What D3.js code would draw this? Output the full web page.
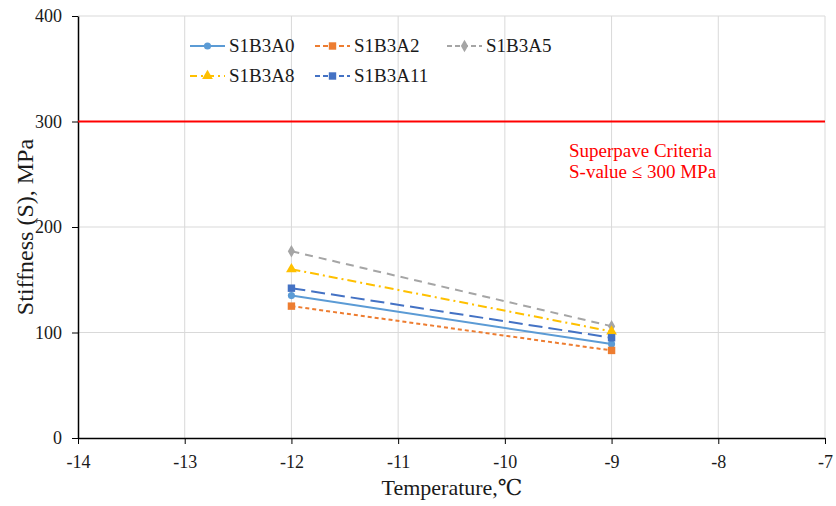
<!DOCTYPE html>
<html>
<head>
  <script src="https://d3js.org/d3.v7.min.js"></script>
  <style>
    body { margin: 0; background: #fff; }
  </style>
</head>
<body>
<div id="chart"></div>
<script type="text/javascript">

  // data
  var temps = [-12, -9];
  var seriesNames = ["S1B3A0", "S1B3A2", "S1B3A5", "S1B3A8", "S1B3A11"];
  var sA0 = [135, 89];
  var sA2 = [125, 83];
  var sA5 = [177, 106];
  var sA8 = [160, 101];
  var sA11 = [142, 95];
  var xTicks = [-14, -13, -12, -11, -10, -9, -8, -7];
  var yTicks = [0, 100, 200, 300, 400];
  var criteria = 300;

  var FONT = "'Liberation Serif', 'Times New Roman', 'DejaVu Serif', serif";
  var width = 836, height = 506;
  var margin = {top: 16, right: 11, bottom: 68, left: 78};

  var svg = d3.select("#chart").append("svg")
      .attr("width", width).attr("height", height)
      .style("font-family", FONT);

  var x = d3.scaleLinear().domain([-14, -7]).range([margin.left, width - margin.right]);
  var y = d3.scaleLinear().domain([0, 400]).range([height - margin.bottom, margin.top]);

  /* gridlines */
  svg.append("g").selectAll("line.gx")
    .data(xTicks.slice(1))
    .enter().append("line")
    .attr("x1", function(d) { return x(d); }).attr("x2", function(d) { return x(d); })
    .attr("y1", y(0)).attr("y2", y(400))
    .style("stroke", "#d9d9d9").style("stroke-width", 1);

  svg.append("g").selectAll("line.gy")
    .data(yTicks.slice(1))
    .enter().append("line")
    .attr("x1", x(-14)).attr("x2", x(-7))
    .attr("y1", function(d) { return y(d); }).attr("y2", function(d) { return y(d); })
    .style("stroke", "#d9d9d9").style("stroke-width", 1);

  /* axes */
  var xAxis = svg.append("g")
    .attr("transform", "translate(0," + y(0) + ")")
    .call(d3.axisBottom(x).tickValues(xTicks).tickSize(6).tickSizeOuter(0)
      .tickFormat(function(d) { return d; }))
    .attr("font-family", null);
  xAxis.select(".domain").style("stroke", "#000").style("stroke-width", 1.5);
  xAxis.selectAll(".tick line").style("stroke", "#000");
  xAxis.selectAll("text").style("font-family", FONT).style("font-size", "18px").style("fill", "#1a1a1a")
    .attr("y", 17).attr("dy", "0.71em");

  var yAxis = svg.append("g")
    .attr("transform", "translate(" + x(-14) + ",0)")
    .call(d3.axisLeft(y).tickValues(yTicks).tickSize(6).tickSizeOuter(0))
    .attr("font-family", null);
  yAxis.select(".domain").style("stroke", "#000").style("stroke-width", 1.5);
  yAxis.selectAll(".tick line").style("stroke", "#000");
  yAxis.selectAll("text").style("font-family", FONT).style("font-size", "18px").style("fill", "#1a1a1a").attr("x", -16);

  /* criteria line */
  svg.append("line")
    .attr("x1", x(-14)).attr("x2", x(-7))
    .attr("y1", y(criteria)).attr("y2", y(criteria))
    .style("stroke", "#ff0000").style("stroke-width", 2);

  svg.append("text").attr("x", 569).attr("y", 157)
    .style("fill", "#ff0000").style("font-size", "19px")
    .text("Superpave  Criteria");
  svg.append("text").attr("x", 569).attr("y", 178)
    .style("fill", "#ff0000").style("font-size", "19px")
    .text("S-value \u2264 300 MPa");

  /* series */
  var series = [
    {name: seriesNames[0], values: sA0, color: "#5b9bd5", dash: null, symbol: d3.symbolCircle, size: 40},
    {name: seriesNames[1], values: sA2, color: "#ed7d31", dash: "4,3", symbol: d3.symbolSquare, size: 55},
    {name: seriesNames[2], values: sA5, color: "#a5a5a5", dash: "8,6", symbol: d3.symbolDiamond, size: 45},
    {name: seriesNames[3], values: sA8, color: "#ffc000", dash: "9,4,2,4", symbol: d3.symbolTriangle, size: 50},
    {name: seriesNames[4], values: sA11, color: "#4472c4", dash: "14,6", symbol: d3.symbolSquare, size: 55}
  ];

  var line = d3.line()
    .x(function(d) { return x(d[0]); })
    .y(function(d) { return y(d[1]); });

  series.forEach(function(s) {
    var pts = temps.map(function(t, i) { return [t, s.values[i]]; });
    svg.append("path")
      .datum(pts)
      .attr("d", line)
      .style("fill", "none")
      .style("stroke", s.color)
      .style("stroke-width", 2)
      .style("stroke-dasharray", s.dash);
    svg.append("g").selectAll("path")
      .data(pts)
      .enter().append("path")
      .attr("d", d3.symbol().type(s.symbol).size(s.size))
      .attr("transform", function(d) { return "translate(" + x(d[0]) + "," + y(d[1]) + ")"; })
      .style("fill", s.color);
  });

  /* legend */
  var legendPos = [[190, 46], [315, 46], [447, 46], [190, 76], [315, 76]];
  series.forEach(function(s, i) {
    var g = svg.append("g").attr("transform", "translate(" + legendPos[i][0] + "," + legendPos[i][1] + ")");
    g.append("line").attr("x1", 0).attr("x2", 35).attr("y1", 0).attr("y2", 0)
      .style("stroke", s.color).style("stroke-width", 2)
      .style("stroke-dasharray", s.dash ? (i === 3 ? "7,4,2,4" : "5,3") : null);
    g.append("path").attr("d", d3.symbol().type(s.symbol).size(s.size))
      .attr("transform", "translate(17.5,0)").style("fill", s.color);
    g.append("text").attr("x", 39).attr("y", 6)
      .style("font-size", "19px").style("fill", "#1a1a1a").text(s.name);
  });

  /* axis titles */
  svg.append("text")
    .attr("transform", "translate(33," + ((y(0) + y(400)) / 2) + ") rotate(-90)")
    .attr("text-anchor", "middle")
    .style("font-size", "24px").style("fill", "#1a1a1a")
    .text("Stiffness (S), MPa");

  svg.append("text")
    .attr("x", 452).attr("y", 495)
    .attr("text-anchor", "middle")
    .style("font-size", "22px").style("fill", "#1a1a1a")
    .text("Temperature,\u2103");

</script>
</body>
</html>
